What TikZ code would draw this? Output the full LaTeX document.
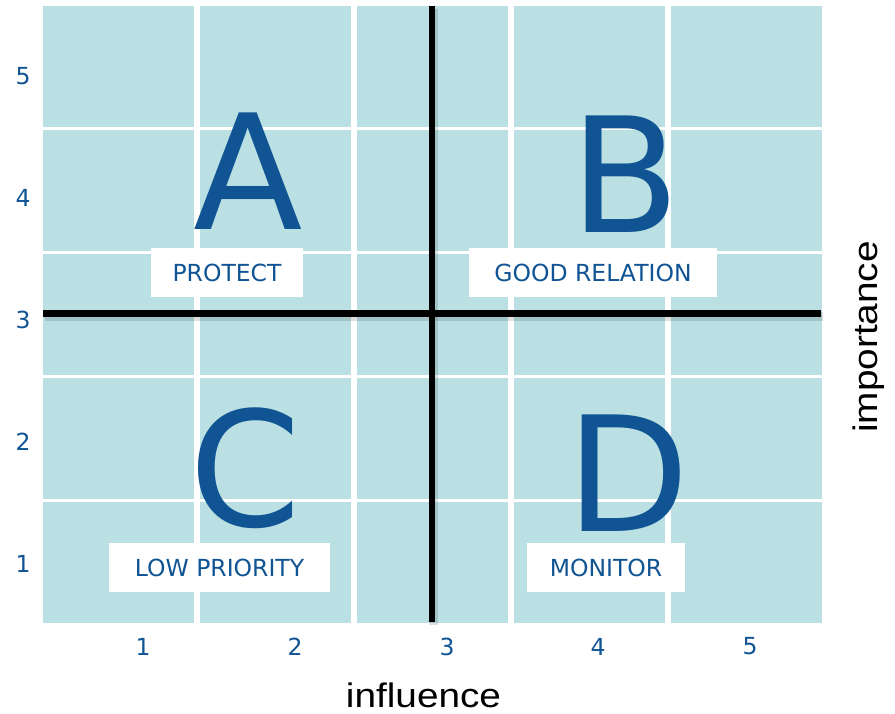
\documentclass[tikz,border=0pt]{standalone}
\usepackage{fontspec}
\setmainfont{DejaVu Sans}
\newfontfamily\axisfont[FakeStretch=1.14]{Liberation Sans}
\definecolor{gridteal}{RGB}{186,224,227}
\definecolor{quadblue}{RGB}{16,84,148}
\begin{document}
\begin{tikzpicture}[x=1pt,y=-1pt,
  bigletter/.style={text=quadblue,inner sep=0pt,anchor=base,font=\fontsize{160}{160}\selectfont},
  labelbox/.style={fill=white,text=quadblue,inner sep=0pt,minimum height=49pt,font=\fontsize{23.5}{24}\selectfont},
  ticklabel/.style={text=quadblue,inner sep=0pt,font=\fontsize{23.5}{24}\selectfont},
  axistitle/.style={text=black,inner sep=0pt,anchor=base,font=\axisfont\fontsize{34}{36}\selectfont},
  axisline/.style={line width=6.5pt,black},
  shadowline/.style={line width=9pt,black,opacity=0.12}]
\useasboundingbox (0,0) rectangle (895,714);
% grid background
\fill[gridteal] (43,6) rectangle (822,623);
\foreach \x in {194,351,508,665} \fill[white] (\x,6) rectangle ++(6,617);
\foreach \y in {127,251,375,499} \fill[white] (43,\y) rectangle ++(779,3);
% axis lines with soft shadow
\coordinate (hl) at (43,313.5);
\coordinate (hr) at (821,313.5);
\coordinate (vt) at (432,6);
\coordinate (vb) at (432,622);
\draw[shadowline] ([shift={(1.5,3)}]hl) -- ([shift={(1.5,3)}]hr);
\draw[shadowline] ([shift={(1.5,3)}]vt) -- ([shift={(1.5,3)}]vb);
\draw[axisline] (hl) -- (hr);
\draw[axisline] (vt) -- (vb);
% big letters
\node[bigletter] (A) at (248,230) {A};
\node[bigletter] (B) at (625,233) {B};
\node[bigletter] (C) at (245,526) {C};
\node[bigletter] (D) at (628,531) {D};
% labels
\node[labelbox,minimum width=152pt] (protect) at (227,272.5) {PROTECT};
\node[labelbox,minimum width=248pt] (good) at (593,272.5) {GOOD RELATION};
\node[labelbox,minimum width=221pt] (low) at (219.5,567.5) {LOW PRIORITY};
\node[labelbox,minimum width=158pt] (monitor) at (606,567.5) {MONITOR};
% tick labels
\node[ticklabel] (y5) at (23,76) {5};
\node[ticklabel] (y4) at (23,198) {4};
\node[ticklabel] (y3) at (23,320) {3};
\node[ticklabel] (y2) at (23,442) {2};
\node[ticklabel] (y1) at (23,564) {1};
\node[ticklabel] (x1) at (143,646.5) {1};
\node[ticklabel] (x2) at (295,646.5) {2};
\node[ticklabel] (x3) at (447,646.5) {3};
\node[ticklabel] (x4) at (598,646.5) {4};
\node[ticklabel] (x5) at (750,646.5) {5};
% axis titles
\node[axistitle] (influence) at (423.5,707) {influence};
\node[axistitle,rotate=90] (importance) at (877,337) {importance};
\end{tikzpicture}
\end{document}
